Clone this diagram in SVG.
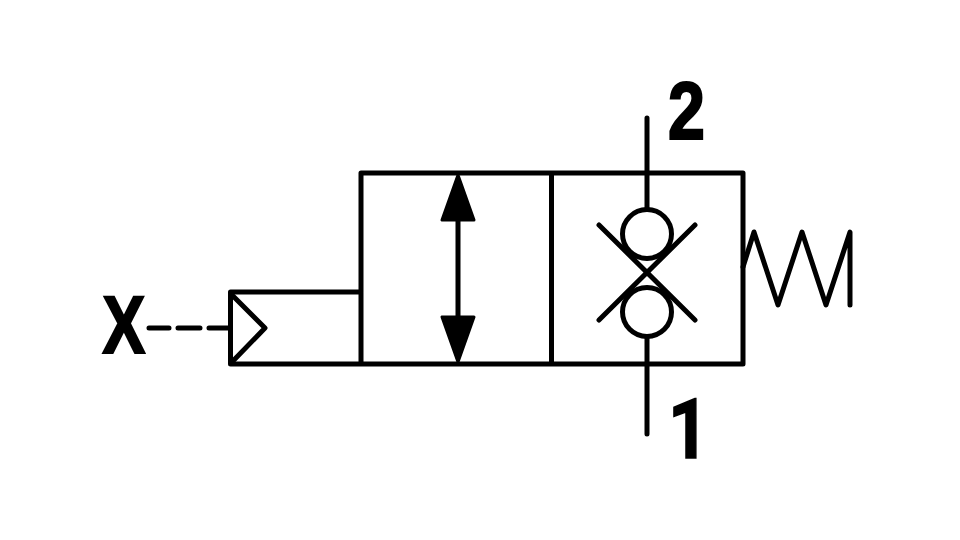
<svg xmlns="http://www.w3.org/2000/svg" width="960" height="540" viewBox="0 0 960 540">
<style>
.l{fill:none;stroke:#000;stroke-width:5;stroke-linecap:round;stroke-linejoin:round}
.f{fill:#000;stroke:#000;stroke-width:3;stroke-linejoin:round}
.t{font-family:"Liberation Sans",Arial,sans-serif;font-weight:700;font-size:81px;fill:#000;stroke:#000;stroke-width:2.200}
.r{font-family:Roboto,"Liberation Sans",sans-serif;font-weight:700;font-size:83px;fill:#000;stroke:#000;stroke-width:1.500}
</style>
<rect width="960" height="540" fill="#fff"/>
<g id="valve-body">
<path class="l" d="M361 173H743V364H230.500V292H361M361 173V364M551.500 173V364"/>
</g>
<g id="pilot">
<path class="l" d="M232 295L265 328L232 362"/>
</g>
<g id="flow-arrow">
<path class="l" d="M458 215V320"/>
<path class="f" d="M458 175L442 220H474Z"/>
<path class="f" d="M458 362L442 317H474Z"/>
</g>
<g id="check-valves">
<circle class="l" cx="647" cy="234" r="24.500"/>
<circle class="l" cx="647" cy="312" r="24.500"/>
<path class="l" d="M599 225L695 320M695 225L599 320"/>
</g>
<g id="spring">
<path class="l" d="M743 267L754 232L778 305L802 232L826 305L850 232V305"/>
</g>
<g id="connectors">
<path class="l" d="M647 118V209M647 337V434"/>
<path class="l" d="M149 328H169M178 328H200M209 328H230"/>
</g>
<g id="labels">
<text class="t" transform="translate(102.500 353) scale(.79 1)">X</text>
<text class="t" transform="translate(668 139) scale(.82 1)">2</text>
<text class="r" transform="translate(668 458) scale(.86 1)">1</text>
</g>
</svg>
